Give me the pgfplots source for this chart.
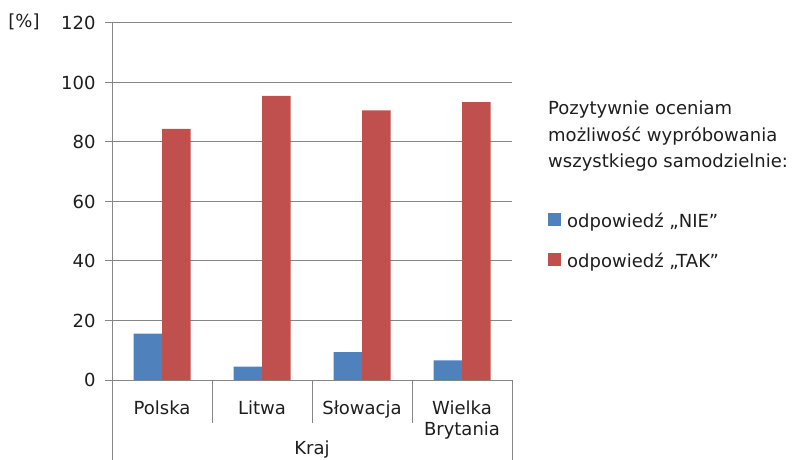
\documentclass[border=0pt]{standalone}
\usepackage{pgfplots}
\pgfplotsset{compat=1.18}
\usepackage{fontspec}
\setmainfont{DejaVu Sans}
\definecolor{nieblue}{RGB}{79,129,189}
\definecolor{takred}{RGB}{192,80,77}
\definecolor{gridgray}{RGB}{134,134,134}
\definecolor{txt}{RGB}{30,30,30}
\newcommand{\ff}{\fontsize{18bp}{21bp}\selectfont}
\begin{document}
\begin{tikzpicture}
\useasboundingbox (0,0) rectangle (792bp,460bp);
\begin{axis}[
  at={(112bp,80bp)}, anchor=south west,
  scale only axis, width=400bp, height=357bp,
  clip=false,
  ymin=0, ymax=120, ytick={0,20,...,120},
  xmin=-0.5, xmax=3.5,
  xtick={0,1,2,3},
  xticklabels={Polska, Litwa, Słowacja, {Wielka\\Brytania}},
  axis lines*=left,
  axis line style={gridgray, line width=1bp},
  ymajorgrids, grid style={gridgray, line width=1bp},
  tick align=outside,
  major tick length=7bp,
  ytick style={gridgray, line width=1bp},
  xtick style={draw=none},
  /pgf/number format/assume math mode=true,
  yticklabel style={font=\ff, text=txt, xshift=-6bp},
  xticklabel style={font=\ff, text=txt, align=center, anchor=north, yshift=-10bp},
  xlabel={Kraj},
  x label style={at={(axis description cs:0.5,0)}, anchor=center, yshift=-70bp, font=\ff, text=txt},
  ybar=0pt, bar width=28.5bp,
  sq/.style={legend image code/.code={\fill[##1] (0bp,-5bp) rectangle (13bp,8bp);}},
  legend style={at={(1,1)}, anchor=north west, xshift=36bp, yshift=-188bp,
    draw=none, fill=none, inner sep=0pt, font=\ff, text=txt, row sep=20bp,
    /tikz/every odd column/.append style={column sep=4bp}},
  legend cell align=left,
]
\addplot[fill=nieblue, draw=none, sq] coordinates {(0,15.6) (1,4.5) (2,9.4) (3,6.6)};
\addplot[fill=takred, draw=none, sq] coordinates {(0,84.4) (1,95.5) (2,90.6) (3,93.4)};
\legend{odpowiedź „NIE”, odpowiedź „TAK”}
\draw[gridgray, line width=1bp] (axis cs:-0.5,0) -- ++(0pt,-80bp);
\draw[gridgray, line width=1bp] (axis cs:3.5,0) -- ++(0pt,-80bp);
\draw[gridgray, line width=1bp] (axis cs:0.5,0) -- ++(0pt,-43bp);
\draw[gridgray, line width=1bp] (axis cs:1.5,0) -- ++(0pt,-43bp);
\draw[gridgray, line width=1bp] (axis cs:2.5,0) -- ++(0pt,-43bp);
\end{axis}
\node[font=\ff, text=txt] at (24bp,438bp) {[\%]};
\node[anchor=base west, font=\ff, text=txt, inner sep=0pt] at (548bp,345bp) {Pozytywnie oceniam};
\node[anchor=base west, font=\ff, text=txt, inner sep=0pt] at (548bp,318bp) {możliwość wypróbowania};
\node[anchor=base west, font=\ff, text=txt, inner sep=0pt] at (548bp,292bp) {wszystkiego samodzielnie:};
\end{tikzpicture}
\end{document}
